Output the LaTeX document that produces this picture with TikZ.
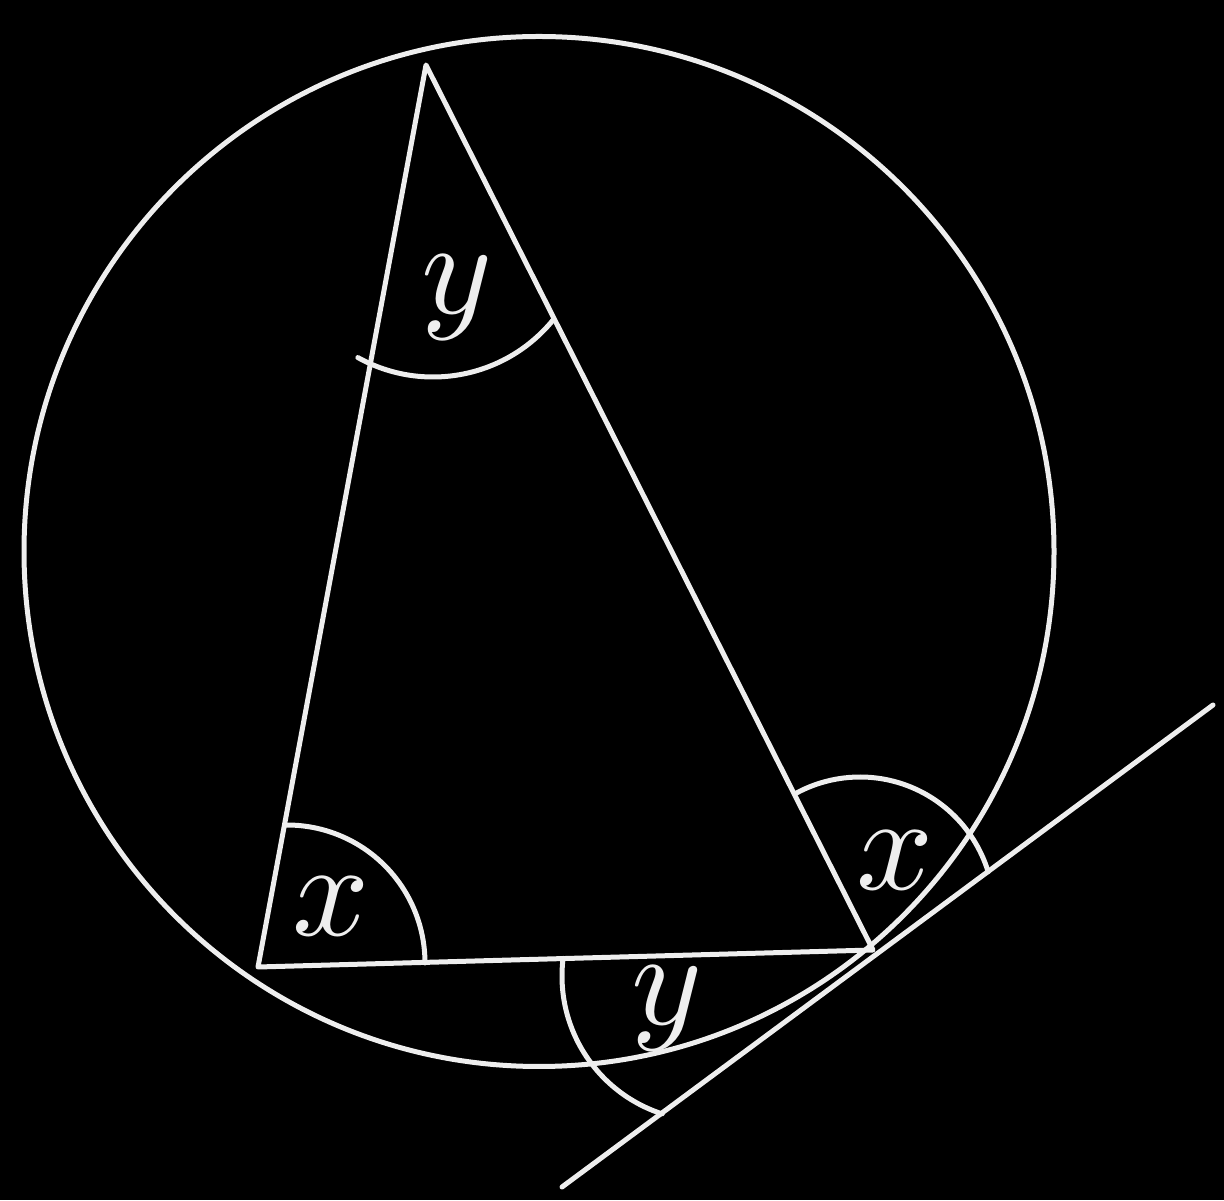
\documentclass[tikz,border=0pt]{standalone}
\usetikzlibrary{calc}
\definecolor{linecol}{RGB}{238,238,238}
\begin{document}
\begin{tikzpicture}[x=1pt,y=1pt,
  figline/.style={draw=linecol, line width=5pt, line cap=round, line join=round},
  anglbl/.style={text=linecol, scale=13.5, anchor=base, inner sep=0pt}]
\fill[black] (0,0) rectangle (1224,1200);
\useasboundingbox (0,0) rectangle (1224,1200);
% points
\coordinate (O) at (539,648.5);
\coordinate (A) at (426,1135);
\coordinate (B) at (258,233);
\coordinate (C) at (873,250);
\coordinate (T1) at (562,13);
\coordinate (T2) at (1213,495);
% arc centres
\coordinate (cB) at (287,237);
\coordinate (cA) at (433,978);
\coordinate (cC) at (860,289);
\coordinate (cD) at (707,224);
% circle, triangle, tangent
\draw[figline] (O) circle[radius=515];
\draw[figline] (A) -- (B) -- (C) -- cycle;
\draw[figline] (T1) -- (T2);
% angle arcs
\draw[figline] ($(cB)+(0:138)$) arc[start angle=0, end angle=91, radius=138];
\draw[figline] ($(cA)+(-119:155)$) arc[start angle=-119, end angle=-39, radius=155];
\draw[figline] ($(cC)+(17:134)$) arc[start angle=17, end angle=118, radius=134];
\draw[figline] ($(cD)+(173:145)$) arc[start angle=173, end angle=252, radius=145];
% labels
\node[anglbl] (lxB) at (331,265) {$x$};
\node[anglbl] (lyA) at (457,886) {$y$};
\node[anglbl] (lxC) at (895,310) {$x$};
\node[anglbl] (lyC) at (667,176) {$y$};
\end{tikzpicture}
\end{document}
